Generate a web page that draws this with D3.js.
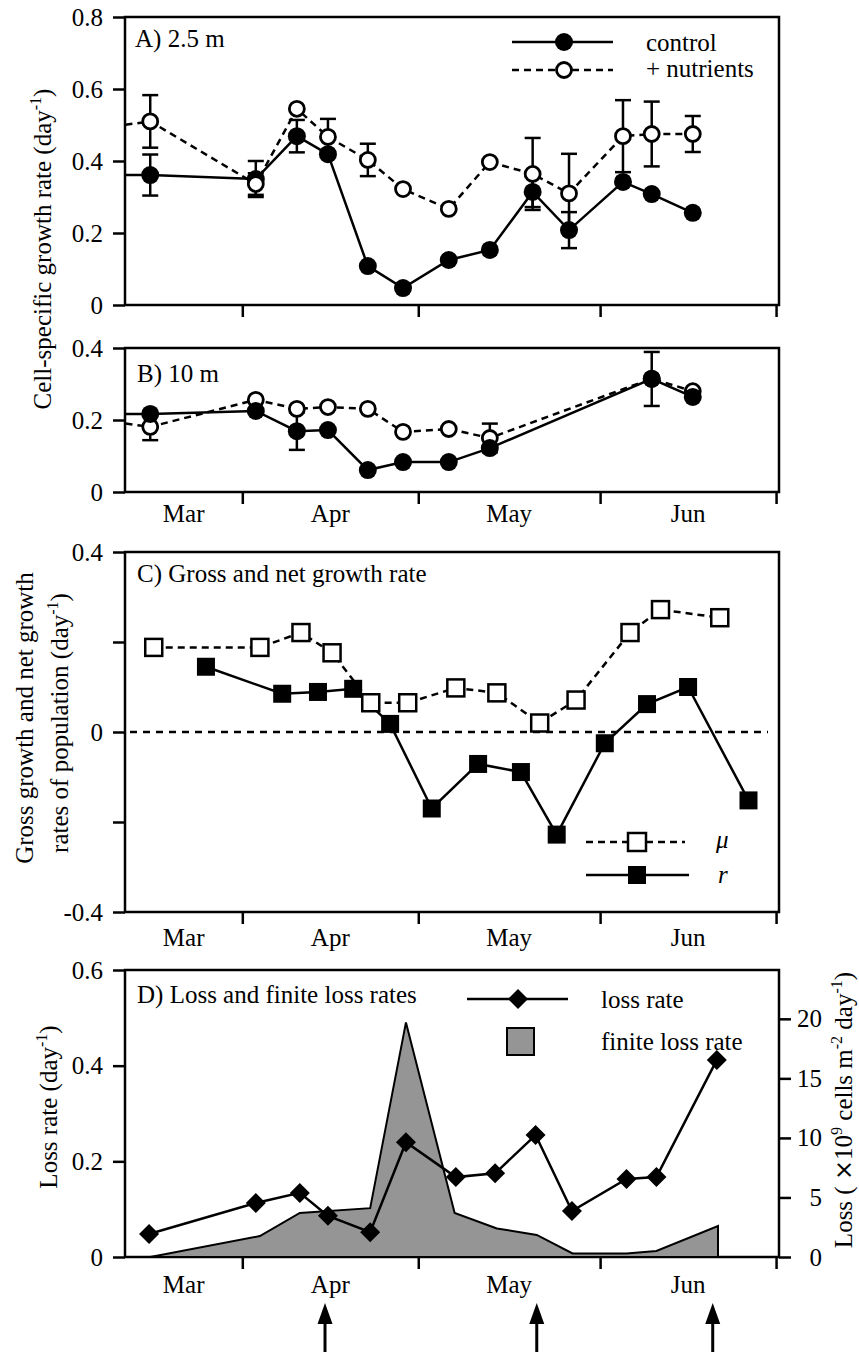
<!DOCTYPE html>
<html>
<head>
<meta charset="utf-8">
<script src="https://cdn.jsdelivr.net/npm/d3@7"></script>
<style>
  body { margin: 0; background: #fff; }
  svg, svg text { display: block; font-family: "Liberation Serif", "Times New Roman", serif; }
</style>
</head>
<body>
<svg id="chart" width="859" height="1352"></svg>
<script>
// x values are day numbers counted from 1 March (Mar 1 = day 0)
const monthTicks = [31, 61, 92, 122];
const monthNames = ['Mar', 'Apr', 'May', 'Jun'];

// A) 2.5 m, cell-specific growth rate (day-1). first entry sits left of the axis
const daysA = [5, 15.3, 33.3, 40.3, 45.6, 52.4, 58.4, 66.2, 73.2, 80.5, 86.7, 95.9, 100.8, 107.8];
const controlA = [0.361, 0.361, 0.35, 0.469, 0.419, 0.108, 0.047, 0.125, 0.153, 0.314, 0.208, 0.342, 0.308, 0.256];
const controlErrA = [0, 0.057, 0.05, 0.045, 0, 0, 0, 0, 0, 0.042, 0.05, 0, 0, 0];
const nutrientA = [0.487, 0.51, 0.336, 0.545, 0.467, 0.403, 0.322, 0.267, 0.397, 0.364, 0.31, 0.469, 0.475, 0.475];
const nutrientErrA = [0, 0.073, 0.03, 0, 0.05, 0.045, 0, 0, 0, 0.1, 0.11, 0.1, 0.09, 0.05];

// B) 10 m
const daysB = [5, 15.3, 33.3, 40.3, 45.6, 52.4, 58.4, 66.2, 73.2, 100.8, 107.8];
const controlB = [0.217, 0.217, 0.225, 0.169, 0.172, 0.061, 0.083, 0.083, 0.122, 0.314, 0.264];
const controlErrB = [0, 0, 0, 0.052, 0, 0, 0, 0, 0, 0.075, 0];
const nutrientB = [0.203, 0.181, 0.256, 0.231, 0.236, 0.231, 0.167, 0.175, 0.15, 0.315, 0.28];
const nutrientErrB = [0, 0.037, 0, 0, 0, 0, 0, 0, 0.04, 0, 0];

// C) gross (mu) and net (r) growth rate of population
const muDays = [15.9, 34, 41, 46.3, 52.9, 59.2, 67.4, 74.4, 81.7, 87.9, 97.1, 102.3, 112.4];
const mu = [0.188, 0.188, 0.221, 0.176, 0.065, 0.065, 0.098, 0.087, 0.02, 0.071, 0.221, 0.272, 0.254];
const rDays = [24.8, 37.8, 43.9, 49.9, 56.2, 63.3, 71.2, 78.5, 84.6, 92.8, 100, 107, 117.3];
const r = [0.145, 0.085, 0.089, 0.096, 0.018, -0.17, -0.071, -0.089, -0.228, -0.025, 0.062, 0.1, -0.152];

// D) loss rate (day-1) and finite loss (x10^9 cells m-2 day-1)
const lossDays = [15.1, 33.3, 40.8, 45.6, 52.8, 58.9, 67.4, 74.1, 81, 87.2, 96.5, 101.6, 111.9];
const lossRate = [0.048, 0.113, 0.134, 0.086, 0.052, 0.24, 0.167, 0.175, 0.255, 0.096, 0.163, 0.167, 0.412];
const finiteDays = [15.3, 34, 40.8, 52.8, 58.9, 67.2, 74.4, 81.2, 87.3, 96.5, 101.6, 112.1];
const finiteLoss = [0, 1.76, 3.7, 4.1, 19.7, 3.7, 2.4, 1.85, 0.3, 0.3, 0.5, 2.6];
const arrowDays = [45.1, 81.2, 111.2];

const svg = d3.select('#chart');
const xScale = d3.scaleLinear().domain([11, 122.5]).range([125, 779]);
const [x0, x1] = xScale.range();
const dash = '7,5';
const serif = 'Liberation Serif, Times New Roman, serif';

const zip = (days, vals, errs) => days.map((d, i) => ({ day: d, v: vals[i], e: errs ? errs[i] : 0 }));

function styleAxis(g) {
  g.attr('font-family', serif).attr('font-size', 25);
  g.select('.domain').remove();
  g.selectAll('.tick line').attr('stroke', '#000').attr('stroke-width', 2.5);
  g.selectAll('.tick text').attr('fill', '#000');
}

function panel(id, top, bottom, domain, ticks, fmt, monthY) {
  const y = d3.scaleLinear().domain(domain).range([bottom, top]);

  svg.append('clipPath').attr('id', 'clip-' + id)
    .append('rect').attr('x', x0).attr('y', top).attr('width', x1 - x0).attr('height', bottom - top);

  const gy = svg.append('g').attr('transform', `translate(${x0},0)`)
    .call(d3.axisLeft(y).tickValues(ticks).tickSize(12).tickPadding(10).tickFormat(fmt));
  styleAxis(gy);

  const gx = svg.append('g').attr('transform', `translate(0,${bottom})`)
    .call(d3.axisBottom(xScale).tickValues(monthTicks).tickSize(12).tickFormat(''));
  styleAxis(gx);

  svg.append('rect')
    .attr('x', x0).attr('y', top).attr('width', x1 - x0).attr('height', bottom - top)
    .attr('fill', 'none').attr('stroke', '#000').attr('stroke-width', 2.5);

  if (monthY) {
    const edges = [xScale.domain()[0]].concat(monthTicks);
    svg.append('g').selectAll('text')
      .data(monthNames)
      .join('text')
      .attr('x', (d, i) => xScale((edges[i] + edges[i + 1]) / 2))
      .attr('y', monthY)
      .attr('text-anchor', 'middle')
      .attr('font-size', 25)
      .text((d) => d);
  }

  const plot = svg.append('g').attr('clip-path', `url(#clip-${id})`);
  return { y, plot };
}

function series(g, y, data, dashed) {
  g.append('path')
    .datum(data)
    .attr('fill', 'none')
    .attr('stroke', '#000')
    .attr('stroke-width', 2.5)
    .attr('stroke-dasharray', dashed ? dash : null)
    .attr('d', d3.line().x((d) => xScale(d.day)).y((d) => y(d.v)));
}

function errorBars(g, y, data) {
  const eb = g.append('g').selectAll('g').data(data.filter((d) => d.e > 0)).join('g')
    .attr('stroke', '#000').attr('stroke-width', 2.5);
  eb.append('line')
    .attr('x1', (d) => xScale(d.day)).attr('x2', (d) => xScale(d.day))
    .attr('y1', (d) => y(d.v - d.e)).attr('y2', (d) => y(d.v + d.e));
  [-1, 1].forEach((s) => {
    eb.append('line')
      .attr('x1', (d) => xScale(d.day) - 8).attr('x2', (d) => xScale(d.day) + 8)
      .attr('y1', (d) => y(d.v + s * d.e)).attr('y2', (d) => y(d.v + s * d.e));
  });
}

function circles(g, y, data, filled) {
  g.append('g').selectAll('circle').data(data).join('circle')
    .attr('cx', (d) => xScale(d.day)).attr('cy', (d) => y(d.v))
    .attr('r', filled ? 9 : 7.5)
    .attr('fill', filled ? '#000' : '#fff')
    .attr('stroke', '#000').attr('stroke-width', filled ? 0 : 2.8);
}

function squares(g, y, data, filled) {
  const s = filled ? 18 : 17;
  g.append('g').selectAll('rect').data(data).join('rect')
    .attr('x', (d) => xScale(d.day) - s / 2).attr('y', (d) => y(d.v) - s / 2)
    .attr('width', s).attr('height', s)
    .attr('fill', filled ? '#000' : '#fff')
    .attr('stroke', '#000').attr('stroke-width', filled ? 0 : 2.5);
}

const diamondPath = 'M0,-10L10,0L0,10L-10,0Z';

// ---------- panel A ----------
const A = panel('a', 17, 305, [0, 0.8], [0, 0.2, 0.4, 0.6, 0.8], (d) => String(d), null);
const ctlA = zip(daysA, controlA, controlErrA);
const nutA = zip(daysA, nutrientA, nutrientErrA);
series(A.plot, A.y, nutA, true);
series(A.plot, A.y, ctlA, false);
errorBars(A.plot, A.y, nutA);
errorBars(A.plot, A.y, ctlA);
circles(A.plot, A.y, ctlA, true);
circles(A.plot, A.y, nutA, false);

svg.append('text').attr('x', 135).attr('y', 47).attr('font-size', 25).text('A) 2.5 m');

// legend A
const legA = svg.append('g');
legA.append('line').attr('x1', 512).attr('x2', 613).attr('y1', 42).attr('y2', 42)
  .attr('stroke', '#000').attr('stroke-width', 2.5);
legA.append('circle').attr('cx', 564).attr('cy', 42).attr('r', 9);
legA.append('line').attr('x1', 512).attr('x2', 613).attr('y1', 70).attr('y2', 70)
  .attr('stroke', '#000').attr('stroke-width', 2.5).attr('stroke-dasharray', dash);
legA.append('circle').attr('cx', 564).attr('cy', 70).attr('r', 7.5)
  .attr('fill', '#fff').attr('stroke', '#000').attr('stroke-width', 2.8);
legA.append('text').attr('x', 646).attr('y', 51).attr('font-size', 25).text('control');
legA.append('text').attr('x', 646).attr('y', 77).attr('font-size', 25).text('+ nutrients');

// ---------- panel B ----------
const B = panel('b', 348, 492, [0, 0.4], [0, 0.2, 0.4], (d) => String(d), 522);
const ctlB = zip(daysB, controlB, controlErrB);
const nutB = zip(daysB, nutrientB, nutrientErrB);
series(B.plot, B.y, nutB, true);
series(B.plot, B.y, ctlB, false);
errorBars(B.plot, B.y, nutB);
errorBars(B.plot, B.y, ctlB);
circles(B.plot, B.y, nutB, false);
circles(B.plot, B.y, ctlB, true);

svg.append('text').attr('x', 137).attr('y', 382).attr('font-size', 25).text('B) 10 m');

const yl1 = svg.append('text').attr('transform', 'translate(51,249) rotate(-90)')
  .attr('text-anchor', 'middle').attr('font-size', 25);
yl1.append('tspan').text('Cell-specific growth rate (day');
yl1.append('tspan').attr('dy', -10).attr('font-size', 16).text('-1');
yl1.append('tspan').attr('dy', 10).text(')');

// ---------- panel C ----------
const C = panel('c', 552, 912, [-0.4, 0.4], [-0.4, -0.2, 0, 0.2, 0.4],
  (d) => ([-0.4, 0, 0.4].includes(d) ? String(d) : ''), 946);
C.plot.append('line')
  .attr('x1', x0 + 5).attr('x2', x1 - 11)
  .attr('y1', C.y(0)).attr('y2', C.y(0))
  .attr('stroke', '#000').attr('stroke-width', 2.5).attr('stroke-dasharray', '7,6');
const muData = zip(muDays, mu);
const rData = zip(rDays, r);
series(C.plot, C.y, muData, true);
series(C.plot, C.y, rData, false);
squares(C.plot, C.y, muData, false);
squares(C.plot, C.y, rData, true);

svg.append('text').attr('x', 137).attr('y', 582).attr('font-size', 25).text('C) Gross and net growth rate');

const legC = svg.append('g');
legC.append('line').attr('x1', 586).attr('x2', 685).attr('y1', 842).attr('y2', 842)
  .attr('stroke', '#000').attr('stroke-width', 2.5).attr('stroke-dasharray', dash);
legC.append('rect').attr('x', 628).attr('y', 833).attr('width', 18).attr('height', 18)
  .attr('fill', '#fff').attr('stroke', '#000').attr('stroke-width', 2.5);
legC.append('line').attr('x1', 586).attr('x2', 689).attr('y1', 875).attr('y2', 875)
  .attr('stroke', '#000').attr('stroke-width', 2.5);
legC.append('rect').attr('x', 628).attr('y', 866).attr('width', 18).attr('height', 18);
legC.append('text').attr('x', 716).attr('y', 848).attr('font-size', 25).attr('font-style', 'italic').text('μ');
legC.append('text').attr('x', 718).attr('y', 883).attr('font-size', 25).attr('font-style', 'italic').text('r');

svg.append('text').attr('transform', 'translate(33,718) rotate(-90)')
  .attr('text-anchor', 'middle').attr('font-size', 25).text('Gross growth and net growth');
const yl2 = svg.append('text').attr('transform', 'translate(68,723) rotate(-90)')
  .attr('text-anchor', 'middle').attr('font-size', 25);
yl2.append('tspan').text('rates of population (day');
yl2.append('tspan').attr('dy', -10).attr('font-size', 16).text('-1');
yl2.append('tspan').attr('dy', 10).text(')');

// ---------- panel D ----------
const D = panel('d', 970, 1257, [0, 0.6], [0, 0.2, 0.4, 0.6], (d) => String(d), 1293);
const yRight = d3.scaleLinear().domain([0, 24.1]).range([1257, 970]);
const gr = svg.append('g').attr('transform', `translate(${x1},0)`)
  .call(d3.axisRight(yRight).tickValues([0, 5, 10, 15, 20]).tickSize(12).tickPadding(10));
styleAxis(gr);
gr.selectAll('.tick text').attr('text-anchor', 'end').attr('x', 43);

const finData = zip(finiteDays, finiteLoss);
D.plot.append('path')
  .datum(finData)
  .attr('fill', '#959595')
  .attr('stroke', '#000')
  .attr('stroke-width', 2)
  .attr('d', d3.area().x((d) => xScale(d.day)).y0(yRight(0)).y1((d) => yRight(d.v)));

const lossData = zip(lossDays, lossRate);
series(D.plot, D.y, lossData, false);
D.plot.append('g').selectAll('path').data(lossData).join('path')
  .attr('transform', (d) => `translate(${xScale(d.day)},${D.y(d.v)})`)
  .attr('d', diamondPath)
  .attr('fill', '#000');

svg.append('text').attr('x', 137).attr('y', 1003).attr('font-size', 25).text('D) Loss and finite loss rates');

const legD = svg.append('g');
legD.append('line').attr('x1', 467).attr('x2', 568).attr('y1', 999).attr('y2', 999)
  .attr('stroke', '#000').attr('stroke-width', 2.5);
legD.append('path').attr('transform', 'translate(518,999)').attr('d', diamondPath);
legD.append('rect').attr('x', 507).attr('y', 1028).attr('width', 27).attr('height', 27)
  .attr('fill', '#959595').attr('stroke', '#000').attr('stroke-width', 2);
legD.append('text').attr('x', 601).attr('y', 1008).attr('font-size', 25).text('loss rate');
legD.append('text').attr('x', 601).attr('y', 1050).attr('font-size', 25).text('finite loss rate');

const yl3 = svg.append('text').attr('transform', 'translate(57,1107) rotate(-90)')
  .attr('text-anchor', 'middle').attr('font-size', 25);
yl3.append('tspan').text('Loss rate (day');
yl3.append('tspan').attr('dy', -10).attr('font-size', 16).text('-1');
yl3.append('tspan').attr('dy', 10).text(')');

const yl4 = svg.append('text').attr('transform', 'translate(852,1110) rotate(-90)')
  .attr('text-anchor', 'middle').attr('font-size', 25);
yl4.append('tspan').text('Loss ( ');
yl4.append('tspan').style('font-family', 'DejaVu Sans, sans-serif').attr('font-size', 24).text('×');
yl4.append('tspan').text('10');
yl4.append('tspan').attr('dy', -10).attr('font-size', 16).text('9');
yl4.append('tspan').attr('dy', 10).text(' cells m');
yl4.append('tspan').attr('dy', -10).attr('font-size', 16).text('-2');
yl4.append('tspan').attr('dy', 10).text(' day');
yl4.append('tspan').attr('dy', -10).attr('font-size', 16).text('-1');
yl4.append('tspan').attr('dy', 10).text(')');

// sampling arrows under panel D
const arrows = svg.append('g').selectAll('g').data(arrowDays).join('g')
  .attr('transform', (d) => `translate(${xScale(d)},1303)`);
arrows.append('path').attr('d', 'M0,0L7.5,21L-7.5,21Z').attr('fill', '#000');
arrows.append('line').attr('x1', 0).attr('x2', 0).attr('y1', 18).attr('y2', 52)
  .attr('stroke', '#000').attr('stroke-width', 3);
</script>
</body>
</html>
